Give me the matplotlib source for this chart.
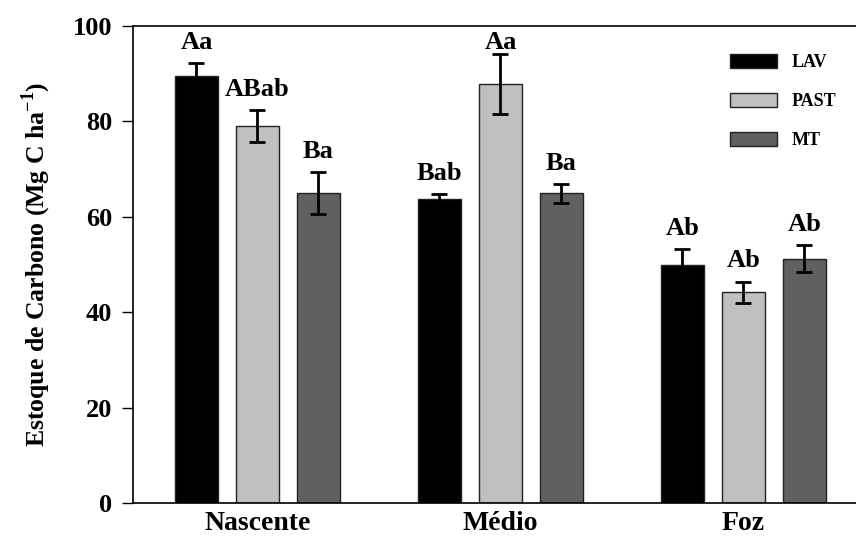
import numpy as np
import matplotlib
matplotlib.use("Agg")
import matplotlib.pyplot as plt

plt.rcParams["font.family"] = "Liberation Serif"
plt.rcParams["font.weight"] = "bold"
plt.rcParams["mathtext.fontset"] = "custom"
plt.rcParams["mathtext.rm"] = "Liberation Serif:bold"
plt.rcParams["mathtext.bf"] = "Liberation Serif:bold"

sites = ["Nascente", "Médio", "Foz"]
uses = ["LAV", "PAST", "MT"]

lav = [89.5, 63.7, 49.9]
past = [79.0, 87.8, 44.2]
mt = [64.9, 64.9, 51.2]

lav_err = [2.8, 1.0, 3.3]
past_err = [3.4, 6.3, 2.2]
mt_err = [4.4, 2.0, 2.8]

lav_lbl = ["Aa", "Bab", "Ab"]
past_lbl = ["ABab", "Aa", "Ab"]
mt_lbl = ["Ba", "Ba", "Ab"]

colors = ["#000000", "#c0c0c0", "#606060"]

fig = plt.figure(figsize=(8.56, 5.36), dpi=100)
ax = fig.add_axes([0.1554, 0.0616, 0.8446, 0.8899])

x = np.arange(len(sites))
width = 0.177
step = 0.251

series = [(lav, lav_err, lav_lbl), (past, past_err, past_lbl), (mt, mt_err, mt_lbl)]
for i, (vals, errs, lbls) in enumerate(series):
    xs = x + (i - 1) * step
    ax.bar(xs, vals, width, color=colors[i], edgecolor="#222222",
           linewidth=1.0, label=uses[i], zorder=2)
    ax.errorbar(xs, vals, yerr=errs, fmt="none", ecolor="black",
                elinewidth=2, capsize=6, capthick=2, zorder=3)
    # letters sit just above the error cap, kept below the top frame
    for xi, v, e, t in zip(xs, vals, errs, lbls):
        ty = min(v + e + 3.0, 95.2)
        ax.text(xi, ty, t, ha="center", va="baseline", fontsize=19,
                fontweight="bold")

ax.set_xlim(-0.512, 2.463)
ax.set_ylim(0, 100)
ax.set_yticks([0, 20, 40, 60, 80, 100])
ax.set_xticks(x)
ax.set_xticklabels(sites, fontsize=20, fontweight="bold")
ax.tick_params(axis="x", length=0, pad=6)
ax.tick_params(axis="y", direction="out", length=8, width=1, labelsize=19, pad=7)
for lab in ax.get_yticklabels():
    lab.set_fontweight("bold")

ax.spines["right"].set_visible(False)
for s in ["left", "bottom", "top"]:
    ax.spines[s].set_linewidth(1.2)

ax.set_ylabel(r"Estoque de Carbono (Mg C ha$^{\mathbf{-1}}$)", fontsize=18.5,
              fontweight="bold", labelpad=14)

ax.legend(loc="upper right", bbox_to_anchor=(0.995, 0.975), frameon=False,
          fontsize=13, handlelength=2.6, handleheight=0.8,
          labelspacing=1.2, handletextpad=0.8)

fig.savefig("out.png", dpi=100)
